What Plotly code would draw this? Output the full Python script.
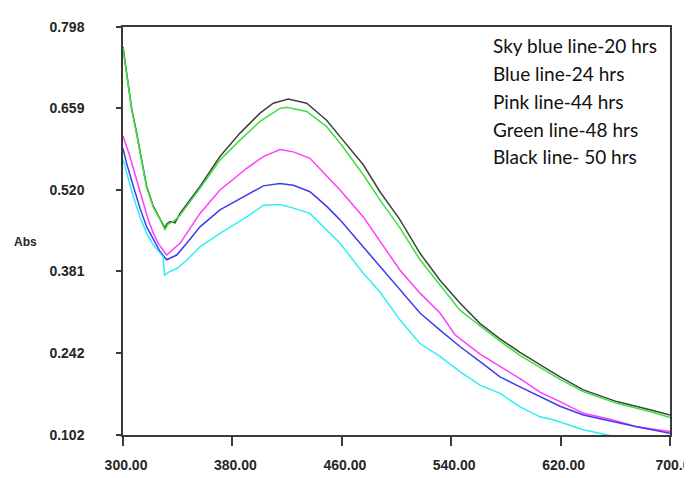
import plotly.graph_objects as go

# ---- data ----
black_nm = [300, 302.7, 306.3, 310, 313.7, 317.3, 322.2, 327.1, 330.7, 332, 334.4, 338, 341.7, 356.3, 370.9, 385.6,
            400.2, 409.9, 420.9, 434.3, 448.9, 458.7, 475.7, 487.9, 502.6, 517.2, 531.8, 546.4, 561.1, 575.7, 590.3,
            604.9, 619.6, 636.6, 661, 685.4, 700]
black_abs = [0.764, 0.719, 0.659, 0.617, 0.571, 0.526, 0.492, 0.472, 0.455, 0.462, 0.466, 0.464, 0.480, 0.526, 0.577,
             0.617, 0.651, 0.668, 0.675, 0.668, 0.639, 0.611, 0.563, 0.517, 0.469, 0.412, 0.366, 0.327, 0.292, 0.266,
             0.243, 0.222, 0.201, 0.179, 0.159, 0.145, 0.136]

green_nm = [300, 302.7, 306.3, 310, 313.7, 317.3, 322.2, 327.1, 330.7, 333, 336.8, 341.7, 356.3, 370.9, 385.6, 400.2,
            414.8, 419.7, 434.3, 448.9, 458.7, 475.7, 487.9, 502.6, 517.2, 531.8, 546.4, 561.1, 575.7, 590.3, 604.9,
            619.6, 636.6, 661, 685.4, 700]
green_abs = [0.762, 0.717, 0.657, 0.615, 0.569, 0.524, 0.490, 0.470, 0.452, 0.462, 0.466, 0.477, 0.523, 0.571, 0.605,
             0.637, 0.659, 0.661, 0.654, 0.628, 0.600, 0.546, 0.503, 0.455, 0.401, 0.358, 0.315, 0.288, 0.262, 0.238,
             0.217, 0.197, 0.176, 0.156, 0.142, 0.132]

pink_nm = [300, 305.1, 310, 314.8, 318.5, 322.2, 325.8, 331.9, 341.7, 356.3, 370.9, 390.5, 402.6, 414.8, 424.6, 436.7,
           449, 458.7, 475.7, 487.9, 502.6, 517.2, 531.8, 542.8, 561.1, 575.7, 590.3, 604.9, 619.6, 636.6, 656.1,
           675.6, 700]
pink_abs = [0.612, 0.577, 0.537, 0.497, 0.469, 0.446, 0.429, 0.409, 0.429, 0.480, 0.520, 0.557, 0.577, 0.589, 0.585,
            0.574, 0.543, 0.520, 0.474, 0.432, 0.383, 0.344, 0.310, 0.273, 0.240, 0.219, 0.198, 0.175, 0.159, 0.139,
            0.129, 0.116, 0.108]

blue_nm = [300, 302.7, 307.6, 312.4, 317.3, 322.2, 327.1, 331.9, 339.3, 346.6, 356.3, 370.9, 390.5, 402.6, 414.8,
           424.6, 436.7, 449, 458.7, 475.7, 487.9, 502.6, 517.2, 531.8, 546.4, 561.1, 575.7, 590.3, 604.9, 619.6,
           636.6, 656.1, 675.6, 700]
blue_abs = [0.591, 0.565, 0.526, 0.489, 0.457, 0.435, 0.415, 0.401, 0.409, 0.429, 0.457, 0.486, 0.511, 0.527, 0.531,
            0.528, 0.517, 0.492, 0.469, 0.423, 0.390, 0.349, 0.310, 0.281, 0.253, 0.227, 0.201, 0.184, 0.167, 0.151,
            0.136, 0.126, 0.116, 0.105]

cyan_nm = [300, 302.7, 307.6, 312.4, 317.3, 322.2, 327.1, 329.3, 330.4, 334.4, 339.3, 346.6, 356.3, 370.9, 390.5,
           402.6, 414.8, 424.6, 436.7, 449, 458.7, 475.7, 487.9, 502.6, 517.2, 531.8, 546.4, 561.1, 575.7, 590.3,
           604.9, 614.7, 636.6, 656.1]
cyan_abs = [0.572, 0.548, 0.508, 0.474, 0.446, 0.426, 0.412, 0.406, 0.375, 0.381, 0.386, 0.400, 0.423, 0.446, 0.474,
            0.494, 0.495, 0.489, 0.480, 0.452, 0.429, 0.378, 0.346, 0.298, 0.258, 0.236, 0.210, 0.187, 0.173, 0.150,
            0.133, 0.128, 0.111, 0.101]

x_tickvals = [300, 380, 460, 540, 620, 700]
x_ticktext = ["300.00", "380.00", "460.00", "540.00", "620.00", "700.0"]
y_tickvals = [0.102, 0.242, 0.381, 0.520, 0.659, 0.798]
y_ticktext = ["0.102", "0.242", "0.381", "0.520", "0.659", "0.798"]

legend_lines = ["Sky blue line-20 hrs", "Blue line-24 hrs", "Pink line-44 hrs",
                "Green line-48 hrs", "Black line- 50 hrs"]

series = [
    (black_nm, black_abs, "#404040"),
    (green_nm, green_abs, "#3ce23c"),
    (pink_nm, pink_abs, "#ff3cff"),
    (blue_nm, blue_abs, "#3c3cf2"),
    (cyan_nm, cyan_abs, "#30eef4"),
]

fig = go.Figure()
for xs, ys, col in series:
    fig.add_trace(go.Scatter(x=xs, y=ys, mode="lines", line=dict(color=col, width=1.5),
                             showlegend=False, hoverinfo="skip"))

tick_font = dict(family="Liberation Sans, Arial, sans-serif", size=14, color="#262626", weight="bold")
axis_common = dict(showline=True, mirror=True, linecolor="#3a3a3a", linewidth=1.5,
                   showgrid=False, zeroline=False, ticks="outside", tickcolor="#3a3a3a",
                   tickwidth=1.5, tickfont=tick_font, automargin=False, ticklabeloverflow="allow")

fig.update_xaxes(range=[300, 700], tickvals=x_tickvals, ticktext=x_ticktext, ticklen=9,
                 ticklabelstandoff=7, ticklabelshift=3, **axis_common)
fig.update_yaxes(range=[0.102, 0.798], tickvals=y_tickvals, ticktext=y_ticktext, ticklen=5,
                 ticklabelstandoff=29, **axis_common)

annotations = [dict(text="<b>Abs</b>", xref="paper", yref="paper", x=-0.203, y=0.473,
                    xanchor="left", yanchor="middle", showarrow=False,
                    font=dict(family="Liberation Sans, Arial, sans-serif", size=12, color="#262626"))]
for i, t in enumerate(legend_lines):
    annotations.append(dict(text=t, xref="paper", yref="paper", x=0.6728, y=0.9535 - i * 0.068,
                            xanchor="left", yanchor="middle", showarrow=False,
                            font=dict(family="Lato, Open Sans, sans-serif", size=19, color="#111111")))

# the page body has an 8px default margin, so the figure is sized/placed to compensate
fig.update_layout(width=684, height=470, margin=dict(l=115, r=22, t=19, b=43),
                  paper_bgcolor="white", plot_bgcolor="white", annotations=annotations)

fig.write_html("out.html")
